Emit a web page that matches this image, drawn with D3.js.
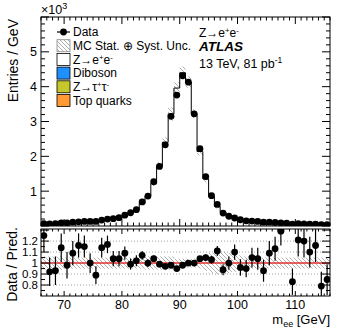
<!DOCTYPE html>
<html>
<head>
<meta charset="utf-8">
<script src="https://cdn.jsdelivr.net/npm/d3@7"></script>
<style>
  body { margin: 0; background: #fff; }
  svg { font-family: "Liberation Sans", Arial, Helvetica, sans-serif; }
</style>
</head>
<body>
<svg id="chart" width="349" height="335"></svg>
<script>
// bins de 1 GeV entre 66 y 116 GeV
const binEdges = d3.range(66, 117, 1)

// datos (Entries / GeV, en unidades de 10^3)
const dataVals = [0.070, 0.060, 0.070, 0.090, 0.090, 0.110, 0.120, 0.130, 0.130, 0.130,
    0.170, 0.200, 0.210, 0.240, 0.310, 0.380, 0.470, 0.690, 0.860, 1.270,
    1.710, 2.330, 3.150, 3.760, 4.310, 4.130, 3.220, 2.220, 1.420, 0.870,
    0.620, 0.370, 0.280, 0.230, 0.180, 0.150, 0.140, 0.130, 0.110, 0.110,
    0.100, 0.090, 0.085, 0.050, 0.065, 0.061, 0.053, 0.052, 0.036, 0.038]

// simulación Z->ee
const zeeVals = [0.056, 0.065, 0.075, 0.079, 0.092, 0.101, 0.103, 0.113, 0.130, 0.146,
    0.149, 0.171, 0.202, 0.231, 0.284, 0.384, 0.461, 0.645, 0.860, 1.221,
    1.727, 2.402, 3.214, 3.958, 4.398, 4.130, 3.220, 2.135, 1.352, 0.845,
    0.559, 0.394, 0.280, 0.209, 0.188, 0.158, 0.133, 0.125, 0.118, 0.101,
    0.088, 0.070, 0.061, 0.060, 0.054, 0.051, 0.048, 0.045, 0.046, 0.045]

// fondos (muy pequeños)
const dibosonVals = [0.0004, 0.0004, 0.0004, 0.0004, 0.0004, 0.0004, 0.0004, 0.0004, 0.0004, 0.0004,
    0.0004, 0.0004, 0.0004, 0.0004, 0.0005, 0.0005, 0.0005, 0.0006, 0.0006, 0.0007,
    0.0008, 0.0009, 0.0010, 0.0011, 0.0012, 0.0011, 0.0010, 0.0009, 0.0008, 0.0007,
    0.0006, 0.0005, 0.0005, 0.0004, 0.0004, 0.0004, 0.0004, 0.0004, 0.0004, 0.0004,
    0.0003, 0.0003, 0.0003, 0.0003, 0.0003, 0.0003, 0.0003, 0.0003, 0.0003, 0.0003]
const ztautauVals = [0.0020, 0.0020, 0.0019, 0.0018, 0.0017, 0.0016, 0.0015, 0.0014, 0.0013, 0.0012,
    0.0011, 0.0010, 0.0009, 0.0008, 0.0007, 0.0006, 0.0005, 0.0005, 0.0004, 0.0004,
    0.0003, 0.0003, 0.0003, 0.0003, 0.0003, 0.0002, 0.0002, 0.0002, 0.0002, 0.0002,
    0.0002, 0.0001, 0.0001, 0.0001, 0.0001, 0.0001, 0.0001, 0.0001, 0.0001, 0.0001,
    0.0001, 0.0001, 0.0001, 0.0001, 0.0001, 0.0001, 0.0001, 0.0001, 0.0001, 0.0001]
const topVals = [0.0006, 0.0006, 0.0006, 0.0006, 0.0006, 0.0006, 0.0006, 0.0006, 0.0006, 0.0006,
    0.0006, 0.0006, 0.0006, 0.0006, 0.0006, 0.0006, 0.0006, 0.0006, 0.0006, 0.0006,
    0.0006, 0.0006, 0.0006, 0.0006, 0.0006, 0.0006, 0.0006, 0.0006, 0.0006, 0.0006,
    0.0005, 0.0005, 0.0005, 0.0005, 0.0005, 0.0005, 0.0005, 0.0005, 0.0005, 0.0005,
    0.0005, 0.0005, 0.0005, 0.0005, 0.0005, 0.0005, 0.0005, 0.0005, 0.0005, 0.0005]

// incertidumbre relativa (MC Stat. + Syst.)
const bandRel = [0.06, 0.06, 0.06, 0.06, 0.05, 0.05, 0.05, 0.05, 0.05, 0.05,
    0.05, 0.05, 0.05, 0.05, 0.05, 0.05, 0.05, 0.05, 0.06, 0.06,
    0.06, 0.06, 0.06, 0.04, 0.04, 0.04, 0.04, 0.05, 0.07, 0.09,
    0.10, 0.10, 0.09, 0.08, 0.07, 0.06, 0.05, 0.05, 0.05, 0.05,
    0.05, 0.05, 0.05, 0.05, 0.05, 0.05, 0.05, 0.05, 0.05, 0.05]

// cociente Data / Pred. y su error
const ratioVals = [1.25, 0.92, 0.93, 1.14, 0.98, 1.09, 1.16, 1.15, 1.00, 0.89,
    1.14, 1.17, 1.04, 1.04, 1.09, 0.99, 1.02, 1.07, 1.00, 1.04,
    0.99, 0.97, 0.98, 0.95, 0.98, 1.00, 1.00, 1.04, 1.05, 1.03,
    1.11, 0.94, 1.00, 1.10, 0.96, 0.95, 1.05, 1.04, 0.93, 1.09,
    1.13, 1.29, 1.45, 0.83, 1.21, 1.20, 1.10, 1.16, 0.79, 0.85]
const ratioErr = [0.15, 0.13, 0.13, 0.13, 0.12, 0.11, 0.11, 0.10, 0.09, 0.08,
    0.09, 0.08, 0.07, 0.07, 0.06, 0.05, 0.05, 0.04, 0.035, 0.03,
    0.025, 0.02, 0.02, 0.015, 0.015, 0.015, 0.02, 0.02, 0.03, 0.035,
    0.045, 0.05, 0.06, 0.07, 0.075, 0.08, 0.09, 0.10, 0.10, 0.11,
    0.11, 0.13, 0.10, 0.12, 0.15, 0.15, 0.14, 0.15, 0.13, 0.14]

const yTicks = [1, 2, 3, 4, 5]
const xTicks = [70, 80, 90, 100, 110]
const ratioTicks = [0.8, 0.9, 1, 1.1, 1.2]
const ratioTickLabels = ["0.8", "0.9", "1", "1.1", "1.2"]

const legendItems = [
    { label: "Data", type: "data" },
    { label: "MC Stat. \u2295 Syst. Unc.", type: "hatch" },
    { label: ["Z\u2192e", "+", "e", "-"], type: "box", color: "#ffffff" },
    { label: "Diboson", type: "box", color: "#1e90ff" },
    { label: ["Z\u2192\u03C4", "+", "\u03C4", "-"], type: "box", color: "#c6c72c" },
    { label: "Top quarks", type: "box", color: "#ff9933" }
]

const svg = d3.select("#chart")

// geometría de los paneles
const L = 41, R = 330
const mainTop = 17, mainBot = 226
const ratTop = 229, ratBot = 296

const x = d3.scaleLinear().domain([66, 116]).range([L, R])
const y = d3.scaleLinear().domain([0, 6]).range([mainBot, mainTop])
const yr = d3.scaleLinear().domain([0.7, 1.31]).range([ratBot, ratTop])

// patrón rayado
const defs = svg.append("defs")
defs.append("pattern")
    .attr("id", "hatch")
    .attr("patternUnits", "userSpaceOnUse")
    .attr("width", 4).attr("height", 4)
    .append("path")
    .attr("d", "M0,0 L4,4 M-1,3 L1,5 M3,-1 L5,1")
    .attr("stroke", "#8a8a8a")
    .attr("stroke-width", 0.7)
defs.append("clipPath").attr("id", "clipMain")
    .append("rect").attr("x", L).attr("y", mainTop).attr("width", R - L).attr("height", mainBot - mainTop)
defs.append("clipPath").attr("id", "clipRat")
    .append("rect").attr("x", L).attr("y", ratTop).attr("width", R - L).attr("height", ratBot - ratTop)

const bins = dataVals.map((d, i) => {
    const b = { lo: binEdges[i], hi: binEdges[i + 1], c: (binEdges[i] + binEdges[i + 1]) / 2 }
    b.data = d
    b.top = topVals[i]
    b.dib = dibosonVals[i]
    b.ztt = ztautauVals[i]
    b.zee = zeeVals[i]
    b.total = b.top + b.dib + b.ztt + b.zee
    b.band = bandRel[i]
    b.ratio = ratioVals[i]
    b.rerr = ratioErr[i]
    return b
})

//***************** panel principal *******************/
const gMain = svg.append("g").attr("clip-path", "url(#clipMain)")

// pila: top, diboson, ztautau, zee
const stackOrder = [
    { key: "top", color: "#ff9933" },
    { key: "dib", color: "#1e90ff" },
    { key: "ztt", color: "#c6c72c" },
    { key: "zee", color: "#ffffff" }
]
bins.forEach(b => {
    let base = 0
    stackOrder.forEach(s => {
        const v = b[s.key]
        gMain.append("rect")
            .attr("x", x(b.lo)).attr("width", x(b.hi) - x(b.lo))
            .attr("y", y(base + v)).attr("height", y(base) - y(base + v))
            .attr("fill", s.color)
        base += v
    })
})

// banda de incertidumbre
gMain.selectAll("rect.band")
    .data(bins)
    .join("rect")
    .attr("class", "band")
    .attr("x", d => x(d.lo)).attr("width", d => x(d.hi) - x(d.lo))
    .attr("y", d => y(d.total * (1 + d.band)))
    .attr("height", d => y(d.total * (1 - d.band)) - y(d.total * (1 + d.band)))
    .attr("fill", "url(#hatch)")

// contorno escalonado
let stepPath = "M" + x(bins[0].lo) + "," + y(0)
bins.forEach(b => {
    stepPath += " L" + x(b.lo) + "," + y(b.total) + " L" + x(b.hi) + "," + y(b.total)
})
stepPath += " L" + x(bins[bins.length - 1].hi) + "," + y(0)
gMain.append("path")
    .attr("d", stepPath)
    .attr("fill", "none")
    .attr("stroke", "#000")
    .attr("stroke-width", 1)

// puntos de datos
gMain.selectAll("circle.data")
    .data(bins)
    .join("circle")
    .attr("class", "data")
    .attr("cx", d => x(d.c)).attr("cy", d => y(d.data))
    .attr("r", 3.4)
    .attr("fill", "#000")

//***************** panel de cociente *******************/
const gRat = svg.append("g").attr("clip-path", "url(#clipRat)")

gRat.selectAll("rect.rband")
    .data(bins)
    .join("rect")
    .attr("class", "rband")
    .attr("x", d => x(d.lo)).attr("width", d => x(d.hi) - x(d.lo))
    .attr("y", d => yr(1 + d.band))
    .attr("height", d => yr(1 - d.band) - yr(1 + d.band))
    .attr("fill", "url(#hatch)")

// líneas punteadas
gRat.selectAll("line.grid")
    .data([0.8, 0.9, 1.1, 1.2])
    .join("line")
    .attr("x1", L).attr("x2", R)
    .attr("y1", d => yr(d)).attr("y2", d => yr(d))
    .attr("stroke", "#888")
    .attr("stroke-width", 0.8)
    .attr("stroke-dasharray", "1,2")

gRat.append("line")
    .attr("x1", L).attr("x2", R)
    .attr("y1", yr(1)).attr("y2", yr(1))
    .attr("stroke", "#e0312f")
    .attr("stroke-width", 1.5)

gRat.selectAll("line.err")
    .data(bins)
    .join("line")
    .attr("x1", d => x(d.c)).attr("x2", d => x(d.c))
    .attr("y1", d => yr(d.ratio - d.rerr)).attr("y2", d => yr(d.ratio + d.rerr))
    .attr("stroke", "#000").attr("stroke-width", 1.2)

gRat.selectAll("circle.rdata")
    .data(bins)
    .join("circle")
    .attr("cx", d => x(d.c)).attr("cy", d => yr(d.ratio))
    .attr("r", 3.4)
    .attr("fill", "#000")

//***************** ejes y marcos *******************/
const axes = svg.append("g").attr("stroke", "#000").attr("stroke-width", 1).attr("fill", "none")
axes.append("rect").attr("x", L).attr("y", mainTop).attr("width", R - L).attr("height", mainBot - mainTop)
axes.append("rect").attr("x", L).attr("y", ratTop).attr("width", R - L).attr("height", ratBot - ratTop)

// ticks del eje x (1 GeV menores, 10 GeV mayores)
const xAll = d3.range(66, 117, 1)
xAll.forEach(v => {
    const major = v % 10 === 0
    const px = x(v)
    const lm = major ? 7 : 3.5
    axes.append("line").attr("x1", px).attr("x2", px).attr("y1", mainBot).attr("y2", mainBot - lm)
    axes.append("line").attr("x1", px).attr("x2", px).attr("y1", mainTop).attr("y2", mainTop + lm)
    const lr = major ? 5 : 2.5
    axes.append("line").attr("x1", px).attr("x2", px).attr("y1", ratBot).attr("y2", ratBot - lr)
    axes.append("line").attr("x1", px).attr("x2", px).attr("y1", ratTop).attr("y2", ratTop + lr)
})

// ticks del eje y principal (0.2 menores)
d3.range(0, 6.01, 0.2).forEach(v => {
    const major = Math.abs(v - Math.round(v)) < 1e-6
    const py = y(v)
    const lm = major ? 8 : 4
    axes.append("line").attr("x1", L).attr("x2", L + lm).attr("y1", py).attr("y2", py)
    axes.append("line").attr("x1", R).attr("x2", R - lm).attr("y1", py).attr("y2", py)
})

// ticks del cociente
d3.range(0.75, 1.31, 0.05).forEach(v => {
    const major = Math.abs(v * 10 - Math.round(v * 10)) < 1e-6
    const py = yr(v)
    const lm = major ? 8 : 4
    axes.append("line").attr("x1", L).attr("x2", L + lm).attr("y1", py).attr("y2", py)
    axes.append("line").attr("x1", R).attr("x2", R - lm).attr("y1", py).attr("y2", py)
})

// etiquetas
const txt = svg.append("g").attr("fill", "#000").attr("font-size", "12.5px")
txt.selectAll("text.yl")
    .data(yTicks)
    .join("text")
    .attr("x", L - 4).attr("y", d => y(d) + 4.5)
    .attr("text-anchor", "end")
    .text(d => d)

txt.selectAll("text.rl")
    .data(ratioTicks)
    .join("text")
    .attr("x", L - 3).attr("y", d => yr(d) + 4)
    .attr("text-anchor", "end")
    .attr("font-size", "11.5px")
    .text((d, i) => ratioTickLabels[i])

txt.selectAll("text.xl")
    .data(xTicks)
    .join("text")
    .attr("x", d => x(d)).attr("y", ratBot + 13)
    .attr("text-anchor", "middle")
    .text(d => d)

// ×10^3
const ex = txt.append("text").attr("x", L).attr("y", 14)
ex.append("tspan").text("\u00D710")
ex.append("tspan").attr("dy", -5).attr("font-size", "9px").text("3")

// títulos de ejes
txt.append("text")
    .attr("transform", `translate(18,${mainTop + 2}) rotate(-90)`)
    .attr("text-anchor", "end")
    .attr("font-size", "14px")
    .text("Entries / GeV")
txt.append("text")
    .attr("transform", `translate(17,${(ratTop + ratBot) / 2 + 2}) rotate(-90)`)
    .attr("text-anchor", "middle")
    .attr("font-size", "14px")
    .text("Data / Pred.")

const xt = txt.append("text").attr("x", R).attr("y", 324).attr("text-anchor", "end").attr("font-size", "13px")
xt.append("tspan").text("m")
xt.append("tspan").attr("dy", 3).attr("font-size", "9px").text("ee")
xt.append("tspan").attr("dy", -3).text(" [GeV]")

// etiqueta con super-índices
function richLabel(sel, parts, size) {
    if (typeof parts === "string") { sel.text(parts); return }
    parts.forEach((p, k) => {
        const sup = k % 2 === 1
        sel.append("tspan")
            .attr("dy", sup ? -4 : (k > 0 ? 4 : 0))
            .attr("font-size", sup ? (size * 0.65) + "px" : size + "px")
            .text(p)
    })
}

// leyenda
const leg = svg.append("g")
const legY0 = 32, legDy = 13.7
legendItems.forEach((it, i) => {
    const cy = legY0 + i * legDy
    if (it.type === "data") {
        leg.append("line").attr("x1", 57).attr("x2", 70).attr("y1", cy).attr("y2", cy)
            .attr("stroke", "#000").attr("stroke-width", 1.2)
        leg.append("circle").attr("cx", 63.5).attr("cy", cy).attr("r", 3.4).attr("fill", "#000")
    } else {
        leg.append("rect").attr("x", 57).attr("y", cy - 6).attr("width", 13).attr("height", 12)
            .attr("fill", it.type === "hatch" ? "url(#hatch)" : it.color)
            .attr("stroke", it.type === "hatch" ? "#888" : "#000")
            .attr("stroke-width", 0.8)
    }
    const t = leg.append("text").attr("x", 73).attr("y", cy + 4.3)
        .attr("font-size", "12px")
    richLabel(t, it.label, 12)
})

// textos ATLAS
const zt = txt.append("text").attr("x", 199).attr("y", 37)
richLabel(zt, ["Z\u2192e", "+", "e", "-"], 12)
txt.append("text").attr("x", 199).attr("y", 51).attr("font-size", "13.5px")
    .attr("font-weight", "bold").attr("font-style", "italic").text("ATLAS")
const lumi = txt.append("text").attr("x", 199).attr("y", 68).attr("font-size", "12.5px")
lumi.append("tspan").text("13 TeV, 81 pb")
lumi.append("tspan").attr("dy", -5).attr("font-size", "8.5px").text("-1")
</script>
</body>
</html>
